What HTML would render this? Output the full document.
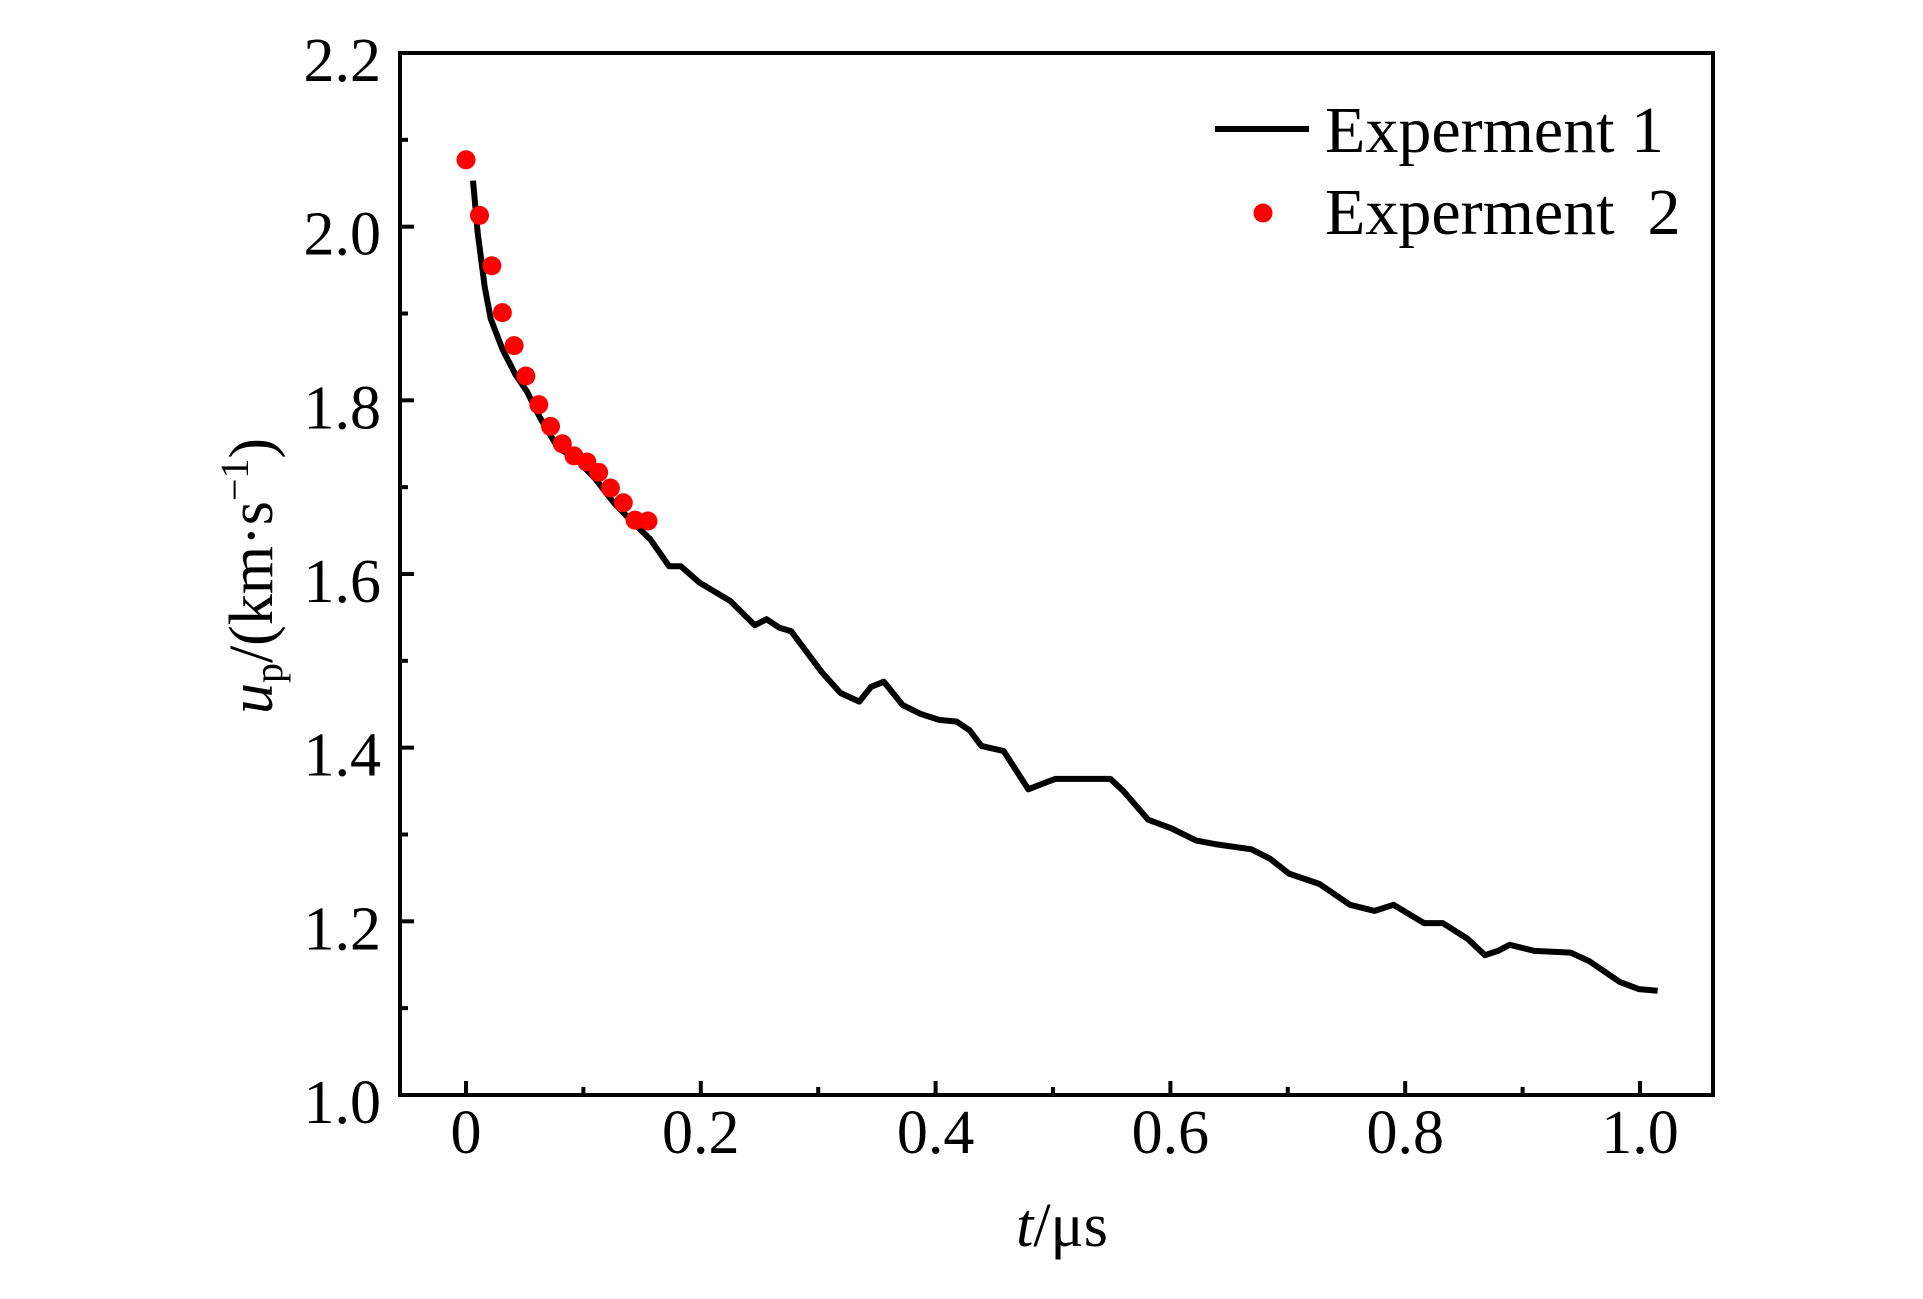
<!DOCTYPE html>
<html><head><meta charset="utf-8"><style>
html,body{margin:0;padding:0;background:#fff;}
svg{display:block;font-family:"Liberation Serif",serif;}
</style></head><body>
<svg id="chart" width="1923" height="1299" viewBox="0 0 1923 1299"></svg>
<script>
const xTicks=[0,0.2,0.4,0.6,0.8,1.0];
const xTickLabels=["0","0.2","0.4","0.6","0.8","1.0"];
const yTicks=[1.0,1.2,1.4,1.6,1.8,2.0,2.2];
const yTickLabels=["1.0","1.2","1.4","1.6","1.8","2.0","2.2"];
const exp1T=[0.006,0.010,0.016,0.021,0.031,0.042,0.052,0.063,0.078,0.094,0.110,0.126,0.141,0.157,0.173,0.183,0.199,0.225,0.246,0.256,0.267,0.277,0.303,0.319,0.335,0.345,0.356,0.372,0.387,0.403,0.418,0.429,0.439,0.458,0.479,0.492,0.502,0.549,0.560,0.581,0.601,0.622,0.638,0.669,0.685,0.701,0.727,0.753,0.774,0.790,0.816,0.832,0.853,0.868,0.879,0.889,0.910,0.941,0.957,0.983,0.999,1.015];
const exp1V=[2.053,1.993,1.930,1.894,1.859,1.830,1.810,1.780,1.746,1.732,1.710,1.682,1.661,1.640,1.609,1.609,1.590,1.569,1.541,1.548,1.538,1.534,1.487,1.463,1.453,1.470,1.476,1.449,1.439,1.432,1.430,1.420,1.402,1.396,1.352,1.359,1.364,1.364,1.350,1.317,1.307,1.293,1.289,1.283,1.272,1.255,1.243,1.219,1.212,1.219,1.198,1.198,1.180,1.161,1.166,1.173,1.166,1.164,1.154,1.130,1.122,1.120];
const exp2T=[0,0.0115,0.022,0.031,0.041,0.051,0.062,0.072,0.082,0.092,0.103,0.113,0.123,0.134,0.144,0.155];
const exp2V=[2.077,2.013,1.955,1.901,1.863,1.828,1.795,1.770,1.750,1.736,1.729,1.717,1.699,1.682,1.662,1.661];

const NS="http://www.w3.org/2000/svg";
const svg=document.getElementById('chart');
const L=400,R=1713,T=53,B=1095;
const X=t=>466+t*1174;
const Y=v=>B-(v-1.0)*(B-T)/1.2;
function mk(tag,attrs,parent){const e=document.createElementNS(NS,tag);for(const k in attrs)e.setAttribute(k,attrs[k]);(parent||svg).appendChild(e);return e;}

const frame=mk('rect',{x:L,y:T,width:R-L,height:B-T,fill:'none',stroke:'#000','stroke-width':4});



for(let i=0;i<yTicks.length;i++){
  const y=Y(yTicks[i]);
  const tk=mk('line',{x1:L,x2:L+14,y1:y,y2:y,stroke:'#000','stroke-width':4});
  
  
  const lb=mk('text',{x:381,y:y+28,'text-anchor':'end','font-size':62});
  lb.textContent=yTickLabels[i];
  
  
  if(i<yTicks.length-1){
    const ym=Y(yTicks[i]+0.1);
    const mt=mk('line',{x1:L,x2:L+8,y1:ym,y2:ym,stroke:'#000','stroke-width':4});
    
    
  }
}
for(let i=0;i<xTicks.length;i++){
  const x=X(xTicks[i]);
  const tk=mk('line',{x1:x,x2:x,y1:B,y2:B-14,stroke:'#000','stroke-width':4});
  
  
  const lb=mk('text',{x:x,y:1153,'text-anchor':'middle','font-size':62});
  lb.textContent=xTickLabels[i];
  
  
  if(i<xTicks.length-1){
    const xm=X(xTicks[i]+0.1);
    const mt=mk('line',{x1:xm,x2:xm,y1:B,y2:B-8,stroke:'#000','stroke-width':4});
    
    
  }
}
let d='';
for(let i=0;i<exp1T.length;i++){d+=(i?'L':'M')+X(exp1T[i]).toFixed(1)+','+Y(exp1V[i]).toFixed(1);}
const line=mk('path',{d:d,fill:'none',stroke:'#000','stroke-width':6,'stroke-linejoin':'round'});


for(let i=0;i<exp2T.length;i++){
  const c=mk('circle',{cx:X(exp2T[i]),cy:Y(exp2V[i]),r:9.5,fill:'#ff0000'});
  
  
}
const g=mk('g',{});


const ll=mk('line',{x1:1215,x2:1309,y1:129,y2:129,stroke:'#000','stroke-width':6},g);


const lt1=mk('text',{x:1325,y:152,'font-size':66},g);
lt1.textContent='Experment 1';


const ld=mk('circle',{cx:1263,cy:213,r:9.5,fill:'#ff0000'},g);


const lt2=mk('text',{x:1325,y:234,'font-size':66},g);
lt2.textContent='Experment  2';
lt2.style.whiteSpace='pre';


</script>
<svg style="position:absolute;left:0;top:0" width="1923" height="1299">
<text x="1062" y="1246" text-anchor="middle" font-size="62" font-family="Liberation Serif,serif"><tspan font-style="italic">t</tspan>/μs</text>
<text transform="translate(272,576) rotate(-90)" text-anchor="middle" font-size="62" font-family="Liberation Serif,serif"><tspan font-style="italic">u</tspan><tspan font-size="40" dy="10">p</tspan><tspan dy="-10">/(km·s</tspan><tspan font-size="40" dy="-24">−1</tspan><tspan dy="24">)</tspan></text>
</svg>
</body></html>
